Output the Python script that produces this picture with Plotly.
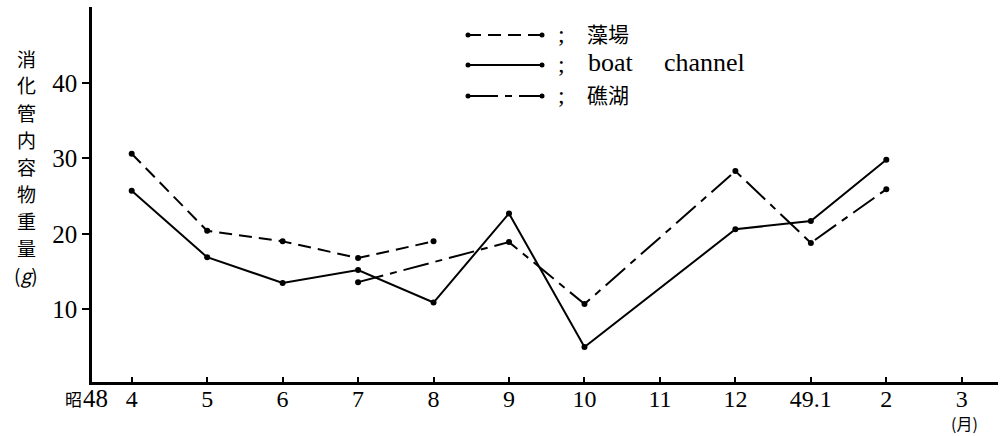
import plotly.graph_objects as go

# Month axis (昭和48年4月 – 49年3月)
months = ["4", "5", "6", "7", "8", "9", "10", "11", "12", "49.1", "2", "3"]

# Stomach content weight (g) by habitat; x values are month indices
seaweed_idx = [0, 1, 2, 3, 4]
seaweed_vals = [30.6, 20.4, 19.0, 16.8, 19.0]

boat_idx = [0, 1, 2, 3, 4, 5, 6, 8, 9, 10]
boat_vals = [25.7, 16.9, 13.5, 15.2, 10.9, 22.7, 5.0, 20.6, 21.7, 29.8]

lagoon_idx = [3, 5, 6, 8, 9, 10]
lagoon_vals = [13.6, 18.9, 10.7, 28.3, 18.8, 25.9]

y_ticks = [10, 20, 30, 40]

# Vertical axis title, one glyph per line
y_title = ["消", "化", "管", "内", "容", "物", "重", "量", "(<i>g</i>)"]

W, H = 1000, 436
ML, MR, MT, MB = 92, 2, 7, 54
PW, PH = W - ML - MR, H - MT - MB

CJK = "Noto Sans CJK JP"
SERIF = "Liberation Serif"


def px_x(px):
    return (px - ML) / PW


def px_y(py):
    return (H - MB - py) / PH


series = [
    (seaweed_idx, seaweed_vals, "13px,7px"),
    (boat_idx, boat_vals, "solid"),
    (lagoon_idx, lagoon_vals, "26px,7px,7px,7px"),
]

fig = go.Figure()
for xs, ys, dash in series:
    fig.add_trace(go.Scatter(
        x=xs, y=ys, mode="lines+markers",
        line=dict(color="black", width=2, dash=dash),
        marker=dict(color="black", size=6),
        showlegend=False, cliponaxis=False,
    ))

shapes = []
annotations = []

# Hand-drawn style key: sample line, end dots, semicolon, label
key_rows = [
    (35, "13px,7px", ["藻場"], [585], CJK, 21),
    (65, "solid", ["boat", "channel"], [586, 662], SERIF, 26),
    (96, "30px,7px,7px,7px", ["礁湖"], [585], CJK, 21),
]
for ky, dash, texts, xs, fam, size in key_rows:
    shapes.append(dict(type="line", xref="paper", yref="paper",
                       x0=px_x(468), x1=px_x(542), y0=px_y(ky), y1=px_y(ky),
                       line=dict(color="black", width=2.2, dash=dash)))
    for ex in (468, 542):
        shapes.append(dict(type="circle", xref="paper", yref="paper",
                           x0=px_x(ex - 2.5), x1=px_x(ex + 2.5),
                           y0=px_y(ky + 2.5), y1=px_y(ky - 2.5),
                           fillcolor="black", line=dict(color="black", width=0)))
    annotations.append(dict(text=";", xref="paper", yref="paper",
                            x=px_x(561), y=px_y(ky - 1), xanchor="center", yanchor="middle",
                            showarrow=False, font=dict(family=SERIF, size=24, color="black")))
    for t, tx in zip(texts, xs):
        annotations.append(dict(text=t, xref="paper", yref="paper",
                                x=px_x(tx), y=px_y(ky - 2), xanchor="left", yanchor="middle",
                                showarrow=False, font=dict(family=fam, size=size, color="black")))

# Stacked vertical title, 27 px per glyph
for i, ch in enumerate(y_title):
    annotations.append(dict(
        text=ch, xref="paper", yref="paper", x=px_x(26), y=px_y(58 + 27 * i),
        xanchor="center", yanchor="middle", showarrow=False,
        font=dict(family=CJK, size=19, color="black"),
    ))

# Era marker at the origin and month unit under the last tick
annotations.append(dict(text="昭", xref="paper", yref="paper", x=px_x(73), y=px_y(399),
                        xanchor="center", yanchor="middle", showarrow=False,
                        font=dict(family=CJK, size=17, color="black")))
annotations.append(dict(text="48", xref="paper", yref="paper", x=px_x(95), y=px_y(399),
                        xanchor="center", yanchor="middle", showarrow=False,
                        font=dict(family=SERIF, size=25, color="black")))
annotations.append(dict(text="(月)", xref="paper", yref="paper", x=px_x(964), y=px_y(423),
                        xanchor="center", yanchor="middle", showarrow=False,
                        font=dict(family=CJK, size=16, color="black")))

fig.update_layout(
    width=W, height=H,
    margin=dict(l=ML, r=MR, t=MT, b=MB, pad=0),
    paper_bgcolor="white", plot_bgcolor="white",
    shapes=shapes, annotations=annotations,
    xaxis=dict(
        range=[-0.526, 11.48], tickmode="array",
        tickvals=list(range(len(months))), ticktext=months,
        showgrid=False, zeroline=False,
        showline=True, linecolor="black", linewidth=2.5,
        ticks="inside", ticklen=5, tickwidth=1.5, tickcolor="black",
        tickfont=dict(family=SERIF, size=24, color="black"),
        ticklabelstandoff=-7,
    ),
    yaxis=dict(
        range=[0.38, 50.03], tickmode="array", tickvals=y_ticks,
        showgrid=False, zeroline=False,
        showline=True, linecolor="black", linewidth=2.5,
        ticks="outside", ticklen=7, tickwidth=1.5, tickcolor="black",
        tickfont=dict(family=SERIF, size=25, color="black"),
    ),
)

fig.write_html("out.html")
